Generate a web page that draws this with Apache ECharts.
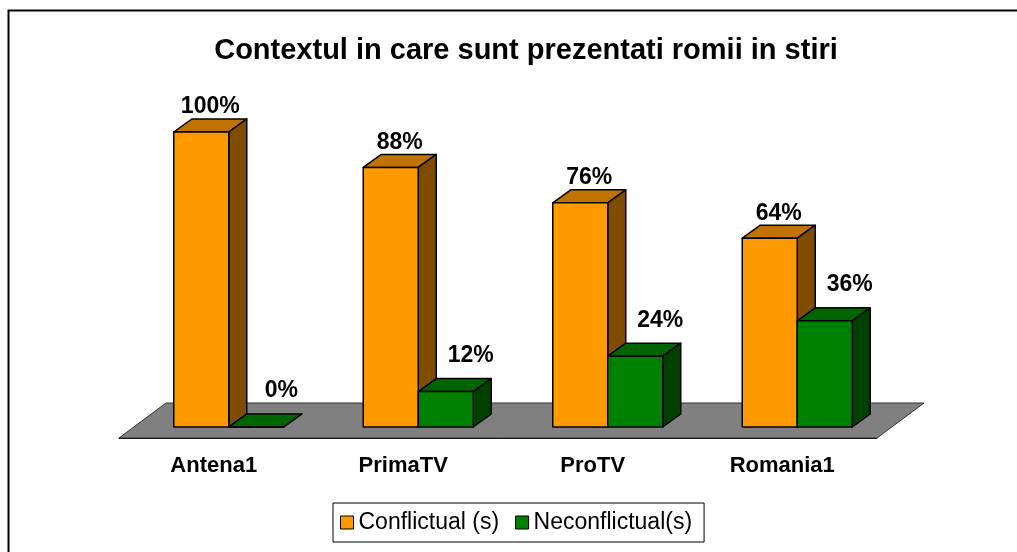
<!DOCTYPE html>
<html>
<head>
<meta charset="utf-8">
<script src="https://cdn.jsdelivr.net/npm/echarts@6/dist/echarts.min.js"></script>
<style>
  html, body { margin: 0; padding: 0; background: #fff; }
  #main { width: 1017px; height: 552px; }
</style>
</head>
<body>
<div id="main"></div>
<script type="text/javascript">
    var categories = ['Antena1', 'PrimaTV', 'ProTV', 'Romania1'];
    var conflictual = [100, 88, 76, 64];
    var neconflictual = [0, 12, 24, 36];
    var seriesNames = ['Conflictual (s)', 'Neconflictual(s)'];

    var myChart = echarts.init(document.getElementById('main'));

    // culori: fata, capac, lateral
    var colors = [
        { front: '#FF9900', top: '#C07300', side: '#7F4C00' },
        { front: '#008000', top: '#006400', side: '#004000' }
    ];
    var FONT = 'Liberation Sans, Arial, sans-serif';
    var BAR_W = 55;     // latime bara
    var DX = 18, DY = 13;  // adancime bara
    var PX = 15, PY = 11;  // planul barelor fata de marginea podelei

    function barRenderer(k) {
        return function (params, api) {
            var i = api.value(0);
            var v = api.value(1);
            var c = colors[k];
            var base = api.coord([i, 0]);
            var top = api.coord([i, v]);
            var x0 = base[0] - BAR_W + k * BAR_W + PX;
            var x1 = x0 + BAR_W;
            var yb = base[1] - PY;
            var yt = top[1] - PY;
            var line = { stroke: '#000', lineWidth: 1.5, lineJoin: 'round' };
            var labelX = (x0 + x1) / 2 + DX / 2 + (k === 1 ? 16 : 0);
            var labelY = yt - DY - (k === 1 ? 23 : 12);
            return {
                type: 'group',
                children: [
                    {
                        type: 'polygon',
                        shape: { points: [[x0, yt], [x0 + DX, yt - DY], [x1 + DX, yt - DY], [x1, yt]] },
                        style: Object.assign({ fill: c.top }, line)
                    },
                    {
                        type: 'polygon',
                        shape: { points: [[x1, yt], [x1 + DX, yt - DY], [x1 + DX, yb - DY], [x1, yb]] },
                        style: Object.assign({ fill: c.side }, line)
                    },
                    {
                        type: 'rect',
                        shape: { x: x0, y: yt, width: BAR_W, height: yb - yt },
                        style: Object.assign({ fill: c.front }, line)
                    },
                    {
                        type: 'text',
                        x: labelX,
                        y: labelY,
                        style: {
                            text: v + '%',
                            fill: '#000',
                            font: 'bold 23px ' + FONT,
                            align: 'center',
                            verticalAlign: 'middle'
                        }
                    }
                ]
            };
        };
    }

    function floorRenderer(params, api) {
        var cs = params.coordSys;
        var yb = cs.y + cs.height;
        return {
            type: 'polygon',
            shape: {
                points: [[cs.x, yb], [cs.x + 47, yb - 35], [cs.x + cs.width + 47, yb - 35], [cs.x + cs.width, yb]]
            },
            style: { fill: '#808080', stroke: '#333', lineWidth: 1 }
        };
    }

    var option = {
        backgroundColor: '#fff',
        animation: false,
        title: {
            text: 'Contextul in care sunt prezentati romii in stiri',
            left: 521,
            top: 31,
            textAlign: 'center',
            textStyle: { fontFamily: FONT, fontSize: 29, fontWeight: 'bold', color: '#000' }
        },
        legend: {
            data: seriesNames,
            left: 333,
            top: 503,
            padding: [8, 12, 8, 7],
            itemGap: 16,
            itemWidth: 13,
            itemHeight: 13,
            icon: 'rect',
            borderColor: '#000',
            borderWidth: 1,
            itemStyle: { borderColor: '#000', borderWidth: 1 },
            textStyle: { fontFamily: FONT, fontSize: 23, color: '#000' }
        },
        grid: { left: 119, right: 140, top: 143, bottom: 114 },
        xAxis: {
            type: 'category',
            data: categories,
            axisLine: { lineStyle: { color: '#000', width: 1 } },
            axisTick: { length: 7, lineStyle: { color: '#000' } },
            axisLabel: { margin: 17, fontFamily: FONT, fontSize: 22, fontWeight: 'bold', color: '#000' }
        },
        yAxis: { type: 'value', min: 0, max: 100, show: false },
        graphic: [{
            type: 'rect',
            shape: { x: 8.5, y: 10.5, width: 1100, height: 600 },
            style: { fill: null, stroke: '#000', lineWidth: 2 },
            z: 100
        }],
        series: [
            {
                type: 'custom',
                silent: true,
                z: 1,
                renderItem: floorRenderer,
                data: [[0, 0]]
            },
            {
                name: seriesNames[0],
                type: 'custom',
                z: 2,
                itemStyle: { color: colors[0].front },
                renderItem: barRenderer(0),
                encode: { x: 0, y: 1 },
                data: categories.map(function (c, i) { return [i, conflictual[i]]; })
            },
            {
                name: seriesNames[1],
                type: 'custom',
                z: 3,
                itemStyle: { color: colors[1].front },
                renderItem: barRenderer(1),
                encode: { x: 0, y: 1 },
                data: categories.map(function (c, i) { return [i, neconflictual[i]]; })
            }
        ]
    };

    myChart.setOption(option);
</script>
</body>
</html>
